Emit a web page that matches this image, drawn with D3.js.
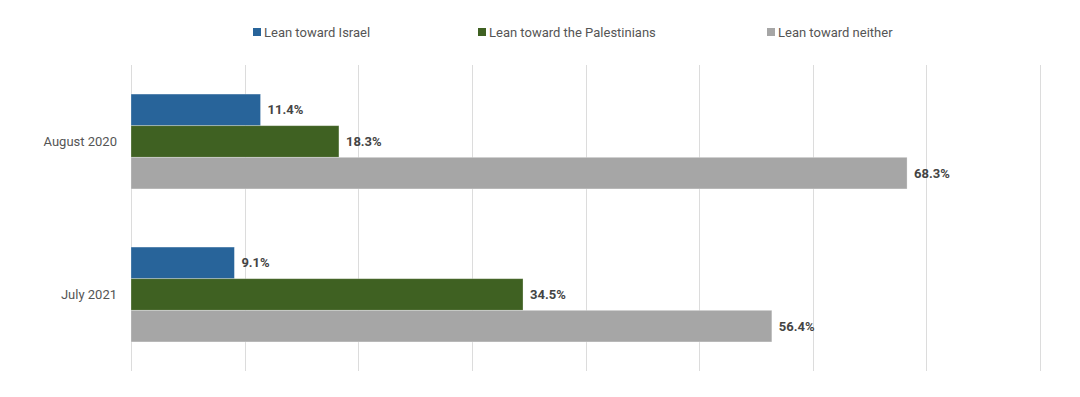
<!DOCTYPE html>
<html>
<head>
<meta charset="utf-8">
<script src="https://cdn.jsdelivr.net/npm/d3@7"></script>
<style>
  body { margin: 0; background: #fff; }
  svg { display: block; font-family: Roboto, sans-serif; }
</style>
</head>
<body>
<div id="chart"></div>
<script>
const categories = ['August 2020', 'July 2021'];
const seriesNames = ['Lean toward Israel', 'Lean toward the Palestinians', 'Lean toward neither'];
const israel = [11.4, 9.1];
const palestinians = [18.3, 34.5];
const neither = [68.3, 56.4];
const xTicks = [0, 10, 20, 30, 40, 50, 60, 70, 80];

const COLORS = ['#28649a', '#3f6122', '#a6a6a6'];
const legendX = [253, 478, 767];

const width = 1080, height = 397;
const plot = { left: 131, right: 1040, top: 65, bottom: 371 };

const rows = categories.map((c, i) => ({
  category: c,
  values: [israel[i], palestinians[i], neither[i]],
}));

const svg = d3.select('#chart').append('svg')
  .attr('width', width)
  .attr('height', height);

const x = d3.scaleLinear().domain([0, 80]).range([plot.left, plot.right]);
const y0 = d3.scaleBand().domain(categories).range([plot.top, plot.bottom]).paddingInner(0.38).paddingOuter(0.19);
const y1 = d3.scaleBand().domain(d3.range(seriesNames.length)).range([0, y0.bandwidth()]);

// gridlines
svg.append('g')
  .selectAll('line')
  .data(xTicks)
  .join('line')
  .attr('x1', (d) => Math.round(x(d)) + 0.5)
  .attr('x2', (d) => Math.round(x(d)) + 0.5)
  .attr('y1', plot.top)
  .attr('y2', plot.bottom)
  .attr('stroke', '#dcdcdc')
  .attr('stroke-width', 1);

// category labels
svg.append('g')
  .selectAll('text')
  .data(categories)
  .join('text')
  .attr('x', plot.left - 14)
  .attr('y', (d) => y0(d) + y0.bandwidth() / 2)
  .attr('dy', '0.35em')
  .attr('text-anchor', 'end')
  .attr('font-size', '13px')
  .attr('fill', '#555')
  .text((d) => d);

const groups = svg.append('g')
  .selectAll('g')
  .data(rows)
  .join('g')
  .attr('transform', (d) => `translate(0,${y0(d.category)})`);

groups.selectAll('rect')
  .data((d) => d.values)
  .join('rect')
  .attr('x', x(0))
  .attr('y', (d, i) => y1(i))
  .attr('width', (d) => x(d) - x(0))
  .attr('height', y1.bandwidth())
  .attr('fill', (d, i) => COLORS[i])
  .attr('stroke', 'rgba(255,255,255,0.35)')
  .attr('stroke-width', 0.8);

groups.selectAll('text')
  .data((d) => d.values)
  .join('text')
  .attr('x', (d) => x(d) + 7)
  .attr('y', (d, i) => y1(i) + y1.bandwidth() / 2)
  .attr('dy', '0.35em')
  .attr('font-size', '13px')
  .attr('font-weight', 'bold')
  .attr('fill', '#444')
  .text((d) => `${d.toFixed(1)}%`);

// legend
const legend = svg.append('g');
seriesNames.forEach((name, i) => {
  legend.append('rect')
    .attr('x', legendX[i])
    .attr('y', 28)
    .attr('width', 8)
    .attr('height', 8)
    .attr('fill', COLORS[i]);
  legend.append('text')
    .attr('x', legendX[i] + 11)
    .attr('y', 32)
    .attr('dy', '0.35em')
    .attr('font-size', '13px')
    .attr('fill', '#555')
    .text(name);
});
</script>
</body>
</html>
